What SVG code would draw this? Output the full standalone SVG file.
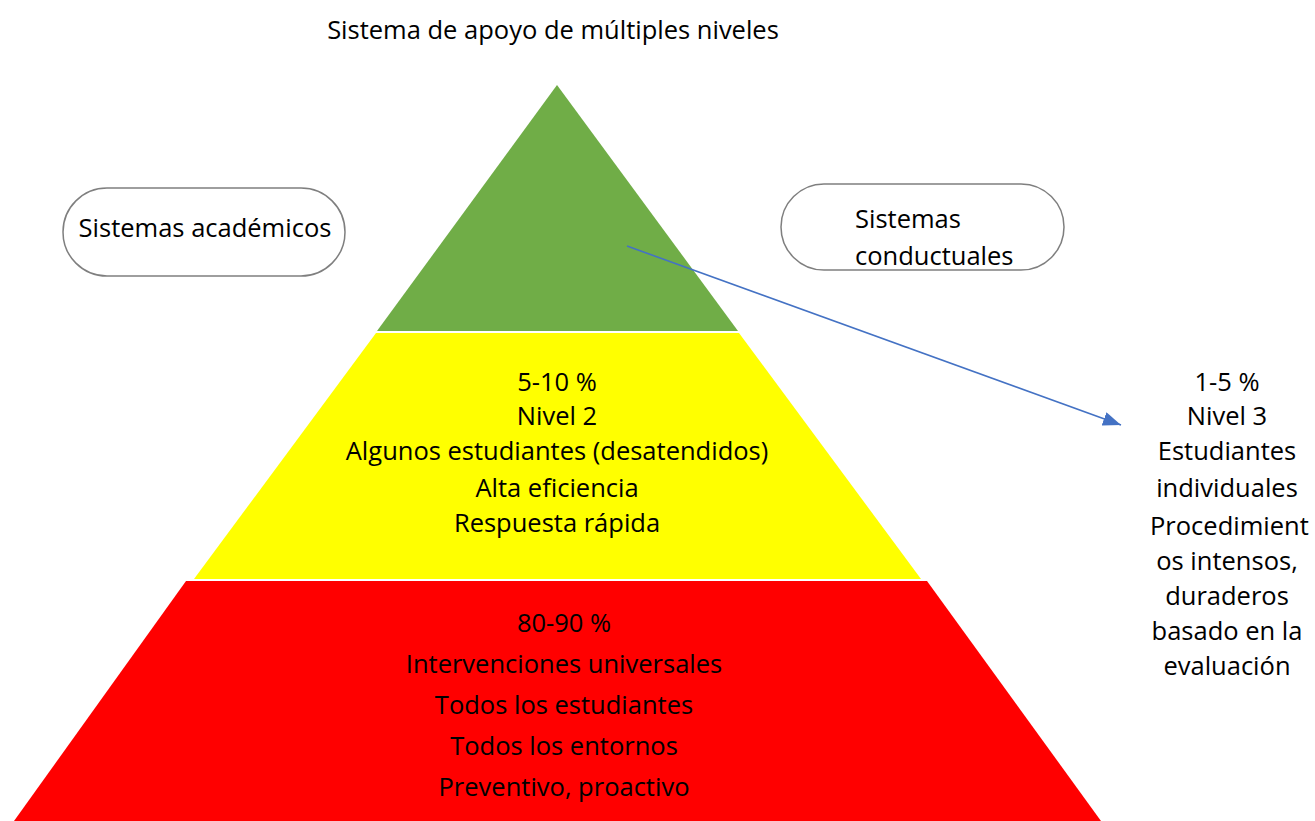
<svg xmlns="http://www.w3.org/2000/svg" width="1315" height="821" viewBox="0 0 1315 821">
<defs>
<style>
text{font-family:"Open Sans","Liberation Sans",Arial,sans-serif;font-size:25.5px;fill:#000}
.c{text-anchor:middle}
.pill{fill:#fff;stroke:#7f7f7f;stroke-width:1.5}
</style>
<marker id="ah" viewBox="0 0 18 14" refX="18" refY="7" markerWidth="18" markerHeight="14" markerUnits="userSpaceOnUse" orient="auto">
<path d="M0,0 L18,7 L0,14 z" fill="#4472C4"/>
</marker>
</defs>
<rect width="1315" height="821" fill="#fff"/>
<text id="title" x="553" y="39" class="c">Sistema de apoyo de múltiples niveles</text>
<g id="tier3">
<polygon points="557,85 738,331 377,331" fill="#70AD47"/>
</g>
<g id="tier2">
<polygon points="376,333 739,333 921,579 194,579" fill="#FFFF00"/>
<text x="557" y="391" class="c">5-10 %</text>
<text x="557" y="425" class="c">Nivel 2</text>
<text x="557" y="460" class="c">Algunos estudiantes (desatendidos)</text>
<text x="557" y="497" class="c">Alta eficiencia</text>
<text x="557" y="532" class="c">Respuesta rápida</text>
</g>
<g id="tier1">
<polygon points="186,581 927,581 1101,821 14,821" fill="#FF0000"/>
<text x="564" y="632" class="c">80-90 %</text>
<text x="564" y="673" class="c">Intervenciones universales</text>
<text x="564" y="714" class="c">Todos los estudiantes</text>
<text x="564" y="755" class="c">Todos los entornos</text>
<text x="564" y="796" class="c">Preventivo, proactivo</text>
</g>
<g id="academicos">
<rect class="pill" x="63" y="188" width="282" height="88" rx="44"/>
<text x="205" y="237" class="c">Sistemas académicos</text>
</g>
<g id="conductuales">
<rect class="pill" x="781" y="184" width="283" height="86" rx="43"/>
<text x="855" y="228">Sistemas</text>
<text x="855" y="265">conductuales</text>
</g>
<g id="nivel3">
<text x="1227" y="391" class="c">1-5 %</text>
<text x="1227" y="425" class="c">Nivel 3</text>
<text x="1227" y="460" class="c">Estudiantes</text>
<text x="1227" y="497" class="c">individuales</text>
<text x="1150" y="535">Procedimient</text>
<text x="1227" y="570" class="c">os intensos,</text>
<text x="1227" y="605" class="c">duraderos</text>
<text x="1227" y="640" class="c">basado en la</text>
<text x="1227" y="675" class="c">evaluación</text>
</g>
<g id="connectors">
<line x1="627" y1="246" x2="1121" y2="425" stroke="#4472C4" stroke-width="1.6" marker-end="url(#ah)"/>
</g>
</svg>
